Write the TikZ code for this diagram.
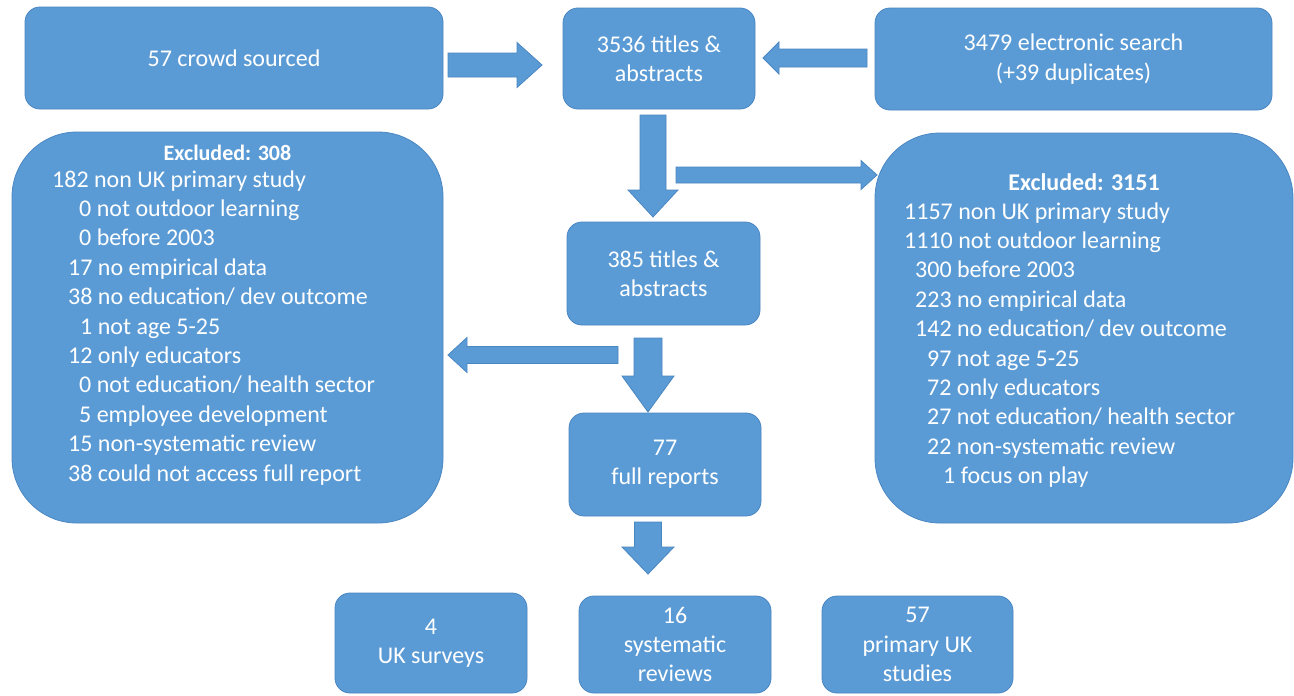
\documentclass[tikz,border=0pt]{standalone}
\usepackage{fontspec}
\setmainfont{Carlito}
\usetikzlibrary{calc}
\definecolor{boxblue}{HTML}{5B9BD5}
\definecolor{boxline}{HTML}{4A86C2}
\newcommand\blockarrow[5]{%
  \coordinate (ah) at ($(#2)!#5pt!(#1)$);
  \draw[arrowfill] ($(#1)!#3pt!90:(#2)$) -- ($(ah)!#3pt!90:(#2)$) -- ($(ah)!#4pt!90:(#2)$) -- (#2)
    -- ($(ah)!#4pt!-90:(#2)$) -- ($(ah)!#3pt!-90:(#2)$) -- ($(#1)!#3pt!-90:(#2)$) -- cycle;}
\begin{document}
\begin{tikzpicture}[x=1pt,y=-1pt,
  box/.style={draw=boxline, line width=0.8pt, fill=boxblue, rounded corners=15pt, text=white,
    align=center, inner sep=0pt, font=\fontsize{24}{29.3}\selectfont},
  bigbox/.style={box, rounded corners=65pt},
  arrowfill/.style={fill=boxblue, draw=boxline, line width=0.8pt, line join=miter},
  listline/.style={text=white, inner sep=0pt, anchor=base west, font=\fontsize{24}{29.3}\selectfont},
  headline/.style={text=white, inner sep=0pt, anchor=base}]
\useasboundingbox (0,0) rectangle (1294,696);
\fill[white] (0,0) rectangle (1294,696);
% boxes
\node[box, minimum width=418pt, minimum height=102pt] (crowd) at (234,58) {57 crowd sourced};
\node[box, minimum width=192pt, minimum height=101pt] (t1) at (659,58.5) {3536 titles \&\\abstracts};
\node[box, minimum width=397pt, minimum height=102pt] (elec) at (1073.5,59) {3479 electronic search\\(+39 duplicates)};
\node[bigbox, minimum width=431pt, minimum height=391pt] (exL) at (227.5,327.5) {};
\node[bigbox, minimum width=418pt, minimum height=390pt] (exR) at (1084,328) {};
\node[box, minimum width=193pt, minimum height=103pt] (t2) at (663.5,273.5) {385 titles \&\\abstracts};
\node[box, minimum width=192pt, minimum height=103pt] (full) at (665,464.5) {77\\full reports};
\node[box, minimum width=192pt, minimum height=100pt] (surv) at (431,643) {4\\UK surveys};
\node[box, minimum width=192pt, minimum height=97pt] (sys) at (675,644.5) {16\\systematic\\reviews};
\node[box, minimum width=191pt, minimum height=97pt] (prim) at (917.5,644.5) {57\\primary UK\\studies};
% left list
\node[headline, font=\bfseries\fontsize{22}{26}\selectfont] (hL) at (227.5,160) {Excluded: 308};
\foreach \xx/\t [count=\i from 0] in {52/{182 non UK primary study}, 79/{0 not outdoor learning},
  79/{0 before 2003}, 68/{17 no empirical data}, 68/{38 no education/ dev outcome},
  80/{1 not age 5-25}, 68/{12 only educators}, 79/{0 not education/ health sector},
  79/{5 employee development}, 68/{15 non-systematic review}, 68/{38 could not access full report}}
  \node[listline] (lL\i) at (\xx,{187+29.4*\i}) {\t};
% right list
\node[headline, font=\bfseries\fontsize{24}{29.3}\selectfont] (hR) at (1084,190) {Excluded: 3151};
\foreach \xx/\t [count=\i from 0] in {904/{1157 non UK primary study}, 904/{1110 not outdoor learning},
  915/{300 before 2003}, 915/{223 no empirical data}, 915/{142 no education/ dev outcome},
  927/{97 not age 5-25}, 927/{72 only educators}, 927/{27 not education/ health sector},
  927/{22 non-systematic review}, 943/{1 focus on play}}
  \node[listline] (lR\i) at (\xx,{219+29.4*\i}) {\t};
% arrows
\coordinate (a1s) at (448,65);  \coordinate (a1t) at (542,65);
\coordinate (a2s) at (867,58);  \coordinate (a2t) at (763,58);
\coordinate (a3s) at (653,115); \coordinate (a3t) at (653,217);
\coordinate (a4s) at (676,175); \coordinate (a4t) at (877,175);
\coordinate (a5s) at (618,355); \coordinate (a5t) at (448,355);
\coordinate (a6s) at (648,338); \coordinate (a6t) at (648,412);
\coordinate (a7s) at (648,522); \coordinate (a7t) at (648,574);
\blockarrow{a1s}{a1t}{12}{22.5}{25}
\blockarrow{a2s}{a2t}{9}{16}{16}
\blockarrow{a3s}{a3t}{13}{25}{27}
\blockarrow{a4s}{a4t}{8}{14.5}{16}
\blockarrow{a5s}{a5t}{8.5}{17.5}{19}
\blockarrow{a6s}{a6t}{14}{26}{36}
\blockarrow{a7s}{a7t}{13.5}{26}{27}
\end{tikzpicture}
\end{document}
